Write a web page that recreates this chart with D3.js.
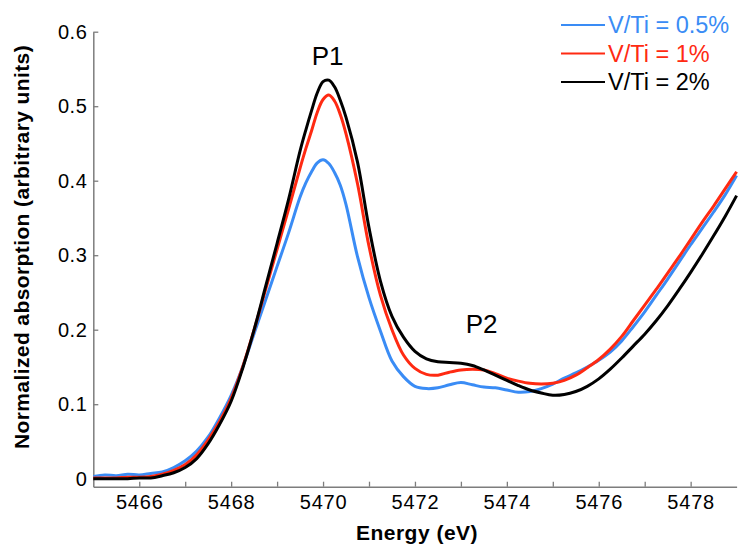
<!DOCTYPE html>
<html>
<head>
<meta charset="utf-8">
<script src="https://cdn.jsdelivr.net/npm/d3@7"></script>
<style>
  html, body { margin: 0; padding: 0; background: #fff; }
  svg { display: block; font-family: "Liberation Sans", Arial, Helvetica, sans-serif; }
</style>
</head>
<body>
<svg id="chart" width="740" height="544"></svg>
<script>
// ---- Data ----
const energy = [
  5465.00, 5465.25, 5465.50, 5465.75, 5466.00, 5466.25, 5466.50, 5466.75,
  5467.00, 5467.25, 5467.50, 5467.75, 5468.00, 5468.25, 5468.50, 5468.75,
  5469.00, 5469.25, 5469.50, 5469.625, 5469.75, 5469.875, 5470.00, 5470.125,
  5470.25, 5470.375, 5470.50, 5470.75,
  5471.00, 5471.25, 5471.50, 5471.75, 5472.00, 5472.25, 5472.50, 5472.75,
  5473.00, 5473.25, 5473.50, 5473.75, 5474.00, 5474.25, 5474.50, 5474.75,
  5475.00, 5475.25, 5475.50, 5475.75, 5476.00, 5476.25, 5476.50, 5476.75,
  5477.00, 5477.25, 5477.50, 5477.75, 5478.00, 5478.25, 5478.50, 5478.75,
  5479.00
];
const vti05 = [
  0.003, 0.005, 0.004, 0.006, 0.005, 0.007, 0.009, 0.015,
  0.024, 0.037, 0.056, 0.082, 0.112, 0.150, 0.195, 0.240,
  0.285, 0.330, 0.378, 0.397, 0.412, 0.424, 0.428, 0.423,
  0.411, 0.394, 0.368, 0.298,
  0.243, 0.198, 0.158, 0.137, 0.124, 0.121, 0.122, 0.126,
  0.129, 0.126, 0.123, 0.122, 0.119, 0.116, 0.117, 0.121,
  0.127, 0.135, 0.142, 0.150, 0.159, 0.170, 0.185, 0.204,
  0.224, 0.246, 0.268, 0.291, 0.314, 0.336, 0.358, 0.381,
  0.407
];
const vti1 = [
  0.001, 0.001, 0.001, 0.002, 0.002, 0.003, 0.006, 0.011,
  0.019, 0.032, 0.052, 0.077, 0.108, 0.150, 0.200, 0.254,
  0.308, 0.362, 0.417, 0.443, 0.467, 0.492, 0.509, 0.515,
  0.507, 0.489, 0.463, 0.396,
  0.312, 0.246, 0.200, 0.166, 0.148, 0.140, 0.139, 0.143,
  0.146, 0.147, 0.146, 0.141, 0.135, 0.131, 0.128, 0.127,
  0.128, 0.132, 0.139, 0.149, 0.160, 0.174, 0.191, 0.212,
  0.233, 0.254, 0.276, 0.298, 0.321, 0.344, 0.366, 0.389,
  0.412
];
const vti2 = [
  0.000, 0.000, 0.000, 0.000, 0.001, 0.001, 0.004, 0.008,
  0.015, 0.027, 0.047, 0.073, 0.104, 0.148, 0.200, 0.258,
  0.316, 0.375, 0.440, 0.468, 0.494, 0.518, 0.533, 0.535,
  0.526, 0.508, 0.485, 0.425,
  0.337, 0.265, 0.218, 0.190, 0.171, 0.161, 0.157, 0.156,
  0.155, 0.152, 0.146, 0.139, 0.132, 0.125, 0.119, 0.115,
  0.112, 0.113, 0.117, 0.124, 0.134, 0.147, 0.162, 0.178,
  0.194, 0.212, 0.232, 0.254, 0.277, 0.301, 0.326, 0.352,
  0.380
];
const seriesNames = ["V/Ti = 0.5%", "V/Ti = 1%", "V/Ti = 2%"];
const seriesColors = ["#3a8cf5", "#ff2a12", "#000000"];
const yTicks = [0, 0.1, 0.2, 0.3, 0.4, 0.5, 0.6];
const yTickLabels = ["0", "0.1", "0.2", "0.3", "0.4", "0.5", "0.6"];
const xMajorTicks = [5466, 5468, 5470, 5472, 5474, 5476, 5478];
const xMinorTicks = [5467, 5469, 5471, 5473, 5475, 5477];
const peakLabels = [{ text: "P1", e: 5470.1, v: 0.555 }, { text: "P2", e: 5473.45, v: 0.195 }];

// ---- Chart ----
const svg = d3.select("#chart");
const x = d3.scaleLinear().domain([5465, 5479]).range([93.3, 736.6]);
const y = d3.scaleLinear().domain([0, 0.6]).range([478.7, 31.7]);
const yBottom = 486.7;
const axisColor = "#7d7d7d";

const seriesData = [vti05, vti1, vti2];

// X axis
const gx = svg.append("g").attr("transform", `translate(0,${yBottom})`);
gx.call(d3.axisBottom(x).tickValues(xMajorTicks).tickFormat(d3.format("d"))
  .tickSizeInner(-5).tickSizeOuter(0).tickPadding(8));
gx.append("g").call(d3.axisBottom(x).tickValues(xMinorTicks).tickFormat("")
  .tickSizeInner(-5).tickSizeOuter(0)).select(".domain").remove();
gx.selectAll("text").attr("font-size", 20).attr("fill", "#000")
  .attr("font-family", "Liberation Sans, Arial, sans-serif").attr("letter-spacing", "0.8px");
gx.selectAll("path.domain").attr("stroke", axisColor).attr("stroke-width", 1.5);
gx.selectAll(".tick line").attr("stroke", axisColor).attr("stroke-width", 1.3);

// Y axis
const yAxisScale = d3.scaleLinear().domain([y.invert(yBottom), 0.6]).range([yBottom, 31.7]);
const gy = svg.append("g").attr("transform", `translate(${x.range()[0]},0)`);
gy.call(d3.axisLeft(yAxisScale).tickValues(yTicks)
  .tickFormat((d, i) => yTickLabels[i])
  .tickSizeInner(-5).tickSizeOuter(0).tickPadding(6));
gy.selectAll("text").attr("font-size", 20).attr("fill", "#000")
  .attr("font-family", "Liberation Sans, Arial, sans-serif").attr("letter-spacing", "0.5px");
gy.selectAll("path.domain").attr("stroke", axisColor).attr("stroke-width", 1.5);
gy.selectAll(".tick line").attr("stroke", axisColor).attr("stroke-width", 1.3);

// Axis titles
svg.append("text")
  .attr("x", 417).attr("y", 540)
  .attr("text-anchor", "middle")
  .attr("font-size", 21).attr("font-weight", "bold").attr("letter-spacing", "0.5px")
  .text("Energy (eV)");
svg.append("text")
  .attr("transform", "translate(29,247) rotate(-90)")
  .attr("text-anchor", "middle")
  .attr("font-size", 21).attr("font-weight", "bold").attr("letter-spacing", "0.4px")
  .text("Normalized absorption (arbitrary units)");

// Lines
const line = d3.line()
  .x((d, i) => x(energy[i]))
  .y(d => y(d))
  .curve(d3.curveCatmullRom.alpha(0.5));

seriesData.forEach((vals, k) => {
  svg.append("path")
    .datum(vals)
    .attr("fill", "none")
    .attr("stroke", seriesColors[k])
    .attr("stroke-width", 3)
    .attr("stroke-linejoin", "round")
    .attr("d", line);
});

// Peak labels
svg.selectAll("text.peak").data(peakLabels).enter().append("text")
  .attr("class", "peak")
  .attr("x", d => x(d.e)).attr("y", d => y(d.v))
  .attr("text-anchor", "middle")
  .attr("font-size", 26)
  .text(d => d.text);

// Legend
const legendY = [25, 53.5, 82];
seriesNames.forEach((name, k) => {
  svg.append("line")
    .attr("x1", 561).attr("x2", 605)
    .attr("y1", legendY[k]).attr("y2", legendY[k])
    .attr("stroke", seriesColors[k]).attr("stroke-width", 2);
  svg.append("text")
    .attr("x", 608).attr("y", legendY[k] + 8)
    .attr("font-size", 23.5)
    .attr("fill", seriesColors[k])
    .text(name);
});
</script>
</body>
</html>
